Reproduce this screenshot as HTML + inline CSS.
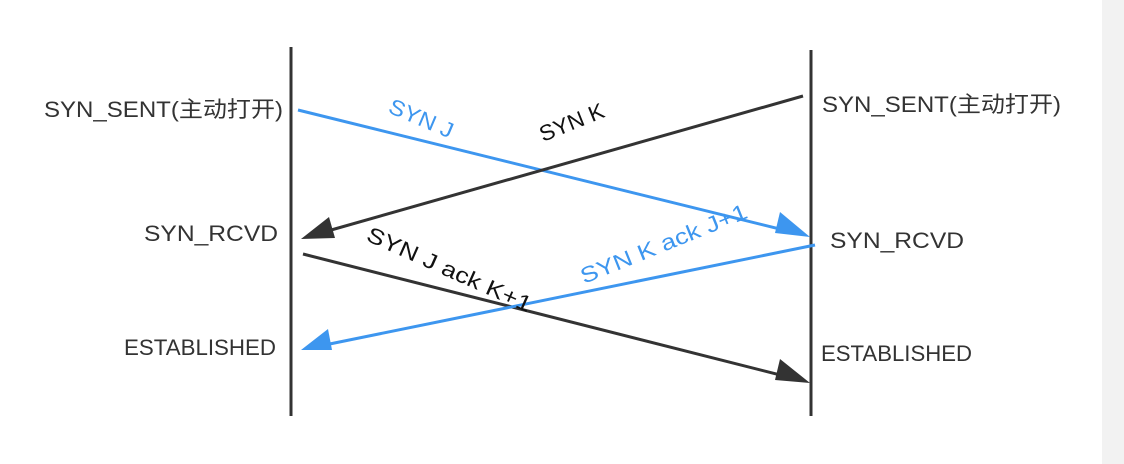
<!DOCTYPE html>
<html><head><meta charset="utf-8"><style>
html,body{margin:0;padding:0;background:#fff;}
svg{display:block;}
text{font-family:"Liberation Sans","Noto Sans CJK SC",sans-serif;font-size:22px;}
</style></head><body>
<svg width="1124" height="464" viewBox="0 0 1124 464" xmlns="http://www.w3.org/2000/svg">
<rect x="0" y="0" width="1124" height="464" fill="#fff"/>
<rect x="1102" y="0" width="22" height="464" fill="#f2f2f2"/>
<line x1="291" y1="47" x2="291" y2="416" stroke="#333" stroke-width="3"/>
<line x1="811" y1="50" x2="811" y2="416" stroke="#333" stroke-width="3"/>
<g stroke-width="3">
<line x1="298" y1="110" x2="800" y2="234" stroke="#3d96ef"/>
<polygon points="810,237 780,212 775,233" fill="#3d96ef"/>
<line x1="803" y1="96" x2="310" y2="236" stroke="#333"/>
<polygon points="301,239 329,217 335,238" fill="#333"/>
<line x1="303" y1="254" x2="800" y2="380" stroke="#333"/>
<polygon points="810,383 780,359 775,380" fill="#333"/>
<line x1="815" y1="245" x2="310" y2="348" stroke="#3d96ef"/>
<polygon points="301,350 328,329 332,350" fill="#3d96ef"/>
</g>
<text x="44" y="117" fill="#333" textLength="239" lengthAdjust="spacingAndGlyphs">SYN_SENT(主动打开)</text>
<text x="822" y="112" fill="#333" textLength="239" lengthAdjust="spacingAndGlyphs">SYN_SENT(主动打开)</text>
<text x="144" y="241" fill="#333" textLength="134" lengthAdjust="spacingAndGlyphs">SYN_RCVD</text>
<text x="830" y="248" fill="#333" textLength="134" lengthAdjust="spacingAndGlyphs">SYN_RCVD</text>
<text x="124" y="355" fill="#333" textLength="152" lengthAdjust="spacingAndGlyphs">ESTABLISHED</text>
<text x="821" y="361" fill="#333" textLength="151" lengthAdjust="spacingAndGlyphs">ESTABLISHED</text>
<text transform="translate(387,112) rotate(23)" fill="#3d96ef" textLength="68" lengthAdjust="spacingAndGlyphs">SYN J</text>
<text transform="translate(543,142) rotate(-22)" fill="#111" textLength="68" lengthAdjust="spacingAndGlyphs">SYN K</text>
<text transform="translate(365,240) rotate(24)" fill="#111" textLength="178" lengthAdjust="spacingAndGlyphs">SYN J ack K+1</text>
<text transform="translate(584,284) rotate(-22)" fill="#3d96ef" textLength="178" lengthAdjust="spacingAndGlyphs">SYN K ack J+1</text>
</svg>
</body></html>
